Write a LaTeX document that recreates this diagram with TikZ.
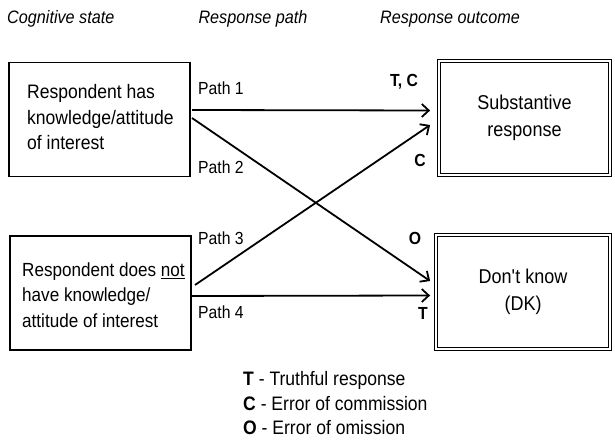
\documentclass[tikz,border=0pt]{standalone}
\usepackage{fontspec}
\setmainfont[FakeStretch=0.9]{Liberation Sans}
\usetikzlibrary{arrows.meta,calc}
\begin{document}
\begin{tikzpicture}[x=1pt,y=-1pt,
  lbox/.style={draw, line width=1.6pt, inner sep=0pt, minimum width=181.4pt, minimum height=114pt},
  rbox/.style={draw, double, double distance=2.2pt, line width=0.8pt, inner sep=0pt, align=center,
    font=\fontsize{20}{27}\selectfont},
  boxtext/.style={anchor=west, align=left, inner sep=0pt, font=\fontsize{19.5}{25.5}\selectfont},
  head/.style={inner sep=0pt, font=\fontsize{18}{20}\selectfont\itshape},
  pathlbl/.style={anchor=west, inner sep=0pt, font=\fontsize{17.5}{20}\selectfont},
  code/.style={inner sep=0pt, font=\fontsize{17.5}{20}\selectfont\bfseries},
  legend/.style={anchor=west, inner sep=0pt, font=\fontsize{19.5}{22}\selectfont},
  arr/.style={line width=1.8pt, -{Straight Barb[length=7pt,width=13pt]}}]
\useasboundingbox (0,0) rectangle (615,446);
% headers
\node[head, anchor=west] (h1) at (7,19) {Cognitive state};
\node[head] (h2) at (253,19) {Response path};
\node[head] (h3) at (450,19) {Response outcome};
% left boxes
\node[lbox] (know) at (99.5,119.5) {};
\node[boxtext] (knowt) at (27,117.5) {Respondent has\\knowledge/attitude\\of interest};
\node[lbox] (nokn) at (100.5,293) {};
\node[boxtext, font=\fontsize{19}{25.5}\selectfont] (noknt) at (22,295) {Respondent does \underline{not}\\have knowledge/\\attitude of interest};
% right boxes
\node[rbox, minimum width=171pt, minimum height=114pt] (sub) at (524.5,118) {Substantive\\response};
\node[rbox, minimum width=174pt, minimum height=114pt] (dk) at (523,292) {Don{\XeTeXglyph\XeTeXcharglyph"0027}t know\\(DK)};
% arrows
\draw[arr] ($(know.east)+(1,-9.5)$) -- ($(sub.west)+(-8.5,-7.5)$);
\draw[arr] ($(know.east)+(1,-1.5)$) -- ($(dk.west)+(-5.5,-11)$);
\draw[arr] ($(nokn.east)+(3,-8)$) -- ($(sub.west)+(-8.5,7)$);
\draw[arr] ($(nokn.east)+(0,3)$) -- ($(dk.west)+(-5.5,3.5)$);
% path labels
\node[pathlbl] (p1) at (198,88) {Path 1};
\node[pathlbl] (p2) at (198,167) {Path 2};
\node[pathlbl] (p3) at (198,238) {Path 3};
\node[pathlbl] (p4) at (198,312) {Path 4};
% outcome codes
\node[code] (tc) at (404,82) {T, C};
\node[code] (c1) at (420,160) {C};
\node[code] (o1) at (415,238) {O};
\node[code] (t1) at (423,313) {T};
% legend
\node[legend] (lt) at (243,380) {\textbf{T} - Truthful response};
\node[legend] (lc) at (243,404) {\textbf{C} - Error of commission};
\node[legend] (lo) at (243,428) {\textbf{O} - Error of omission};
\end{tikzpicture}
\end{document}
